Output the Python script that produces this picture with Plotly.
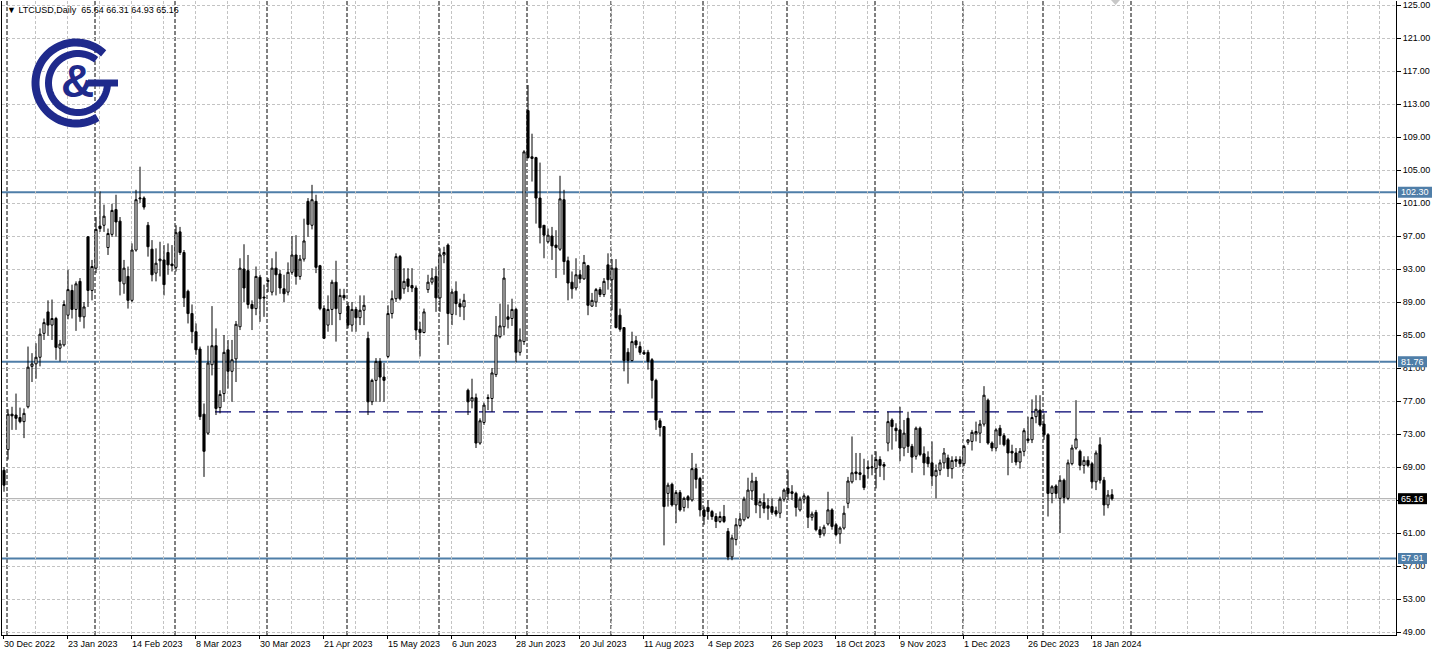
import math
import pandas as pd
import plotly.graph_objects as go

# ---------------- data ----------------
opens = [68.6, 71.1, 75.4, 75.3, 75.0, 74.5, 76.3, 81.2, 81.5, 82.3, 85.2, 87.8, 86.2, 87.0, 83.4, 83.8, 87.4, 90.4, 88.1, 91.5,
         87.2, 96.9, 90.4, 93.1, 98.2, 98.3, 95.6, 97.2, 100.2, 98.8, 91.2, 92.1, 89.2, 95.3, 101.5, 101.6, 98.3, 95.4, 92.5, 94.0,
         94.1, 95.0, 93.6, 93.2, 97.5, 95.0, 90.3, 87.6, 85.4, 83.3, 75.4, 73.1, 81.4, 83.7, 76.2, 77.9, 83.2, 80.6, 82.1, 86.0,
         93.0, 92.8, 88.7, 88.2, 92.0, 89.6, 91.5, 90.2, 93.1, 92.4, 90.6, 90.2, 92.6, 94.7, 92.1, 94.2, 101.2, 98.3, 101.2, 93.4,
         88.2, 86.2, 88.1, 91.4, 87.6, 89.8, 88.5, 86.2, 88.1, 87.1, 88.0, 84.6, 76.9, 79.5, 81.8, 79.9, 82.4, 87.6, 89.4, 94.5,
         90.6, 91.8, 91.0, 90.7, 85.7, 85.3, 90.5, 91.4, 92.1, 89.5, 94.7, 95.9, 87.5, 90.3, 88.8, 88.4, 78.3, 77.0, 77.4, 71.9,
         74.4, 77.3, 77.3, 80.2, 84.8, 86.0, 87.2, 87.0, 88.1, 82.9, 84.2, 112.2, 106.6, 106.5, 101.6, 98.3, 96.3, 97.0, 95.9, 95.4,
         101.4, 94.0, 91.4, 90.7, 92.3, 91.8, 93.4, 88.5, 89.0, 90.5, 89.9, 93.5, 91.7, 93.1, 87.4, 85.9, 82.9, 81.9, 84.3, 83.6,
         82.9, 82.9, 82.0, 79.5, 74.6, 73.9, 65.8, 66.9, 64.4, 65.9, 64.1, 65.4, 65.0, 68.8, 67.6, 63.8, 64.1, 63.6, 63.0, 62.4,
         63.0, 61.2, 58.1, 60.2, 61.9, 62.6, 62.9, 66.1, 67.3, 64.3, 64.7, 64.3, 64.2, 63.7, 63.4, 65.1, 66.4, 66.0, 65.8, 63.8,
         65.1, 65.4, 62.9, 63.5, 61.4, 60.9, 62.1, 63.8, 62.0, 60.9, 61.6, 64.6, 67.2, 68.4, 68.3, 68.0, 69.0, 68.9, 68.8, 69.9,
         69.3, 71.9, 74.7, 73.7, 73.5, 71.3, 74.9, 71.5, 70.3, 73.7, 70.6, 70.2, 69.5, 67.9, 68.6, 69.5, 70.1, 68.8, 69.9, 69.9,
         69.4, 72.0, 72.1, 73.0, 73.1, 74.2, 77.1, 71.9, 71.3, 73.7, 72.8, 72.3, 70.9, 70.7, 69.6, 70.9, 72.2, 72.3, 75.1, 75.9,
         74.2, 72.9, 65.8, 66.7, 65.2, 67.4, 65.2, 69.4, 71.3, 70.9, 69.2, 69.8, 69.4, 67.2, 71.7, 67.4, 64.4, 65.64]
highs = [69.0, 76.0, 76.3, 77.9, 76.2, 76.1, 83.6, 82.8, 84.0, 85.8, 87.0, 89.2, 89.3, 87.2, 84.4, 89.2, 92.9, 91.1, 91.5, 91.9,
         89.0, 97.0, 94.1, 99.3, 102.4, 100.8, 97.9, 100.9, 102.0, 99.3, 94.1, 93.3, 96.1, 102.6, 105.4, 101.8, 98.7, 96.5, 95.5, 96.3,
         95.9, 96.1, 95.9, 98.3, 98.1, 95.3, 90.5, 88.7, 86.4, 83.6, 76.7, 83.7, 88.5, 85.8, 78.3, 85.0, 84.4, 84.4, 86.7, 94.3,
         96.0, 94.7, 89.2, 93.3, 92.3, 91.1, 91.9, 94.3, 95.1, 92.9, 92.3, 93.8, 97.0, 97.1, 94.7, 99.1, 101.6, 103.2, 102.0, 93.5,
         88.6, 89.8, 91.7, 94.0, 90.6, 90.6, 89.0, 89.0, 88.4, 89.8, 89.8, 85.4, 79.7, 82.2, 82.2, 81.6, 88.6, 90.4, 94.9, 94.7,
         93.1, 93.1, 93.1, 91.0, 86.6, 88.2, 92.3, 93.1, 93.3, 95.5, 95.7, 96.1, 90.6, 91.5, 89.4, 90.0, 78.5, 79.7, 77.9, 74.9,
         76.8, 77.8, 81.0, 87.3, 88.8, 93.1, 88.7, 89.4, 88.3, 85.8, 107.4, 115.3, 109.4, 106.6, 105.9, 98.3, 97.9, 98.1, 97.7, 104.3,
         102.6, 94.5, 92.7, 94.3, 92.9, 94.7, 93.5, 90.1, 90.7, 90.8, 91.9, 94.9, 94.2, 94.2, 88.2, 85.9, 83.4, 85.4, 84.9, 84.2,
         83.2, 83.2, 82.2, 79.7, 74.9, 73.9, 67.1, 67.1, 66.2, 66.2, 65.4, 65.6, 70.7, 69.4, 67.8, 64.2, 65.0, 63.8, 63.4, 63.6,
         64.4, 61.6, 60.8, 62.8, 63.4, 65.4, 67.7, 68.3, 67.8, 65.2, 65.8, 65.2, 65.2, 64.2, 65.4, 66.4, 68.6, 66.8, 66.0, 65.4,
         65.8, 65.6, 63.6, 63.8, 61.8, 62.0, 66.0, 64.0, 62.2, 61.8, 64.3, 67.8, 72.7, 70.7, 70.7, 70.0, 69.8, 70.5, 70.9, 70.3,
         69.6, 75.7, 74.9, 74.3, 76.3, 74.7, 75.7, 71.8, 73.9, 73.9, 71.5, 70.9, 72.1, 69.3, 69.9, 71.3, 70.5, 70.3, 70.3, 70.3,
         71.7, 72.3, 73.5, 74.5, 74.7, 78.8, 77.3, 72.1, 73.7, 74.1, 73.1, 72.5, 71.7, 71.3, 71.3, 73.7, 75.1, 77.2, 77.7, 77.7,
         75.5, 73.1, 66.8, 66.9, 68.0, 67.6, 69.9, 71.7, 77.1, 71.1, 70.3, 70.3, 69.6, 71.0, 72.6, 67.8, 66.2, 66.31]
lows = [66.0, 69.9, 73.5, 73.5, 74.3, 72.5, 76.1, 79.3, 79.7, 81.2, 84.4, 84.9, 84.4, 82.0, 81.8, 83.6, 86.9, 87.0, 85.5, 86.6,
        85.8, 88.4, 89.2, 92.5, 97.5, 97.5, 94.7, 96.9, 96.9, 89.8, 90.0, 88.2, 89.0, 95.1, 101.0, 100.2, 94.5, 91.5, 91.5, 92.1,
        89.8, 92.3, 92.7, 92.7, 94.7, 88.4, 86.4, 84.0, 82.6, 74.7, 67.8, 72.9, 80.1, 75.3, 75.5, 76.9, 78.5, 76.9, 79.3, 85.6,
        89.0, 88.2, 85.6, 87.4, 86.6, 87.2, 90.2, 89.8, 89.8, 90.0, 89.0, 89.8, 92.3, 91.1, 91.7, 93.9, 96.9, 97.8, 92.5, 88.0,
        84.5, 85.4, 86.2, 84.2, 86.8, 89.2, 85.8, 85.4, 85.4, 86.2, 86.2, 75.3, 76.5, 76.9, 76.9, 76.9, 82.2, 87.0, 89.0, 89.2,
        90.0, 90.2, 90.2, 84.4, 82.4, 85.2, 90.1, 91.1, 87.8, 87.8, 93.7, 83.8, 86.2, 87.4, 87.2, 86.8, 75.3, 76.1, 71.3, 71.7,
        74.1, 75.9, 75.7, 79.9, 84.6, 85.0, 85.8, 86.1, 81.7, 82.5, 83.8, 106.4, 103.6, 98.5, 96.1, 94.3, 96.1, 94.1, 91.9, 95.2,
        92.3, 89.2, 89.4, 90.4, 91.3, 91.7, 87.4, 88.4, 88.4, 89.6, 89.6, 90.5, 88.0, 85.8, 85.4, 80.6, 79.1, 81.8, 83.4, 82.6,
        82.6, 80.8, 77.3, 73.5, 72.7, 59.5, 64.2, 64.2, 62.2, 63.6, 63.6, 64.0, 64.8, 66.4, 63.0, 62.0, 62.6, 62.6, 61.6, 62.2,
        62.2, 57.7, 57.7, 59.5, 61.7, 62.4, 62.7, 65.0, 63.4, 62.8, 63.4, 62.6, 63.2, 63.0, 62.8, 64.8, 65.0, 65.0, 63.0, 63.6,
        64.6, 61.6, 62.5, 61.2, 60.4, 60.6, 61.9, 61.4, 60.6, 59.7, 61.4, 64.0, 67.0, 67.4, 67.4, 66.2, 67.6, 68.0, 66.4, 67.8,
        67.4, 70.9, 71.1, 72.1, 69.7, 70.3, 70.7, 68.3, 69.9, 70.3, 68.0, 69.0, 66.7, 65.2, 68.0, 68.8, 67.8, 67.6, 69.0, 69.0,
        69.1, 71.7, 71.0, 72.1, 71.9, 73.9, 71.7, 70.9, 70.9, 71.7, 71.5, 68.0, 69.5, 69.2, 68.8, 70.3, 71.9, 71.9, 74.3, 73.9,
        72.3, 63.0, 64.6, 65.2, 61.0, 64.6, 65.0, 69.2, 71.1, 68.6, 68.2, 69.0, 66.4, 66.2, 67.0, 63.1, 64.0, 64.93]
closes = [66.8, 75.4, 75.2, 74.9, 74.5, 75.5, 81.1, 81.5, 82.3, 85.1, 86.5, 86.2, 87.0, 83.5, 83.9, 88.7, 90.5, 88.1, 91.2, 87.2,
          88.4, 90.4, 93.3, 97.8, 97.9, 99.4, 97.3, 100.1, 98.7, 91.5, 93.1, 89.2, 95.3, 101.4, 101.6, 100.5, 95.7, 92.3, 93.7, 94.2,
          91.1, 93.5, 93.4, 97.4, 95.0, 89.5, 87.6, 85.4, 83.2, 75.1, 70.9, 81.6, 83.7, 76.1, 77.8, 82.9, 80.6, 82.0, 86.3, 93.1,
          90.7, 88.7, 88.2, 92.1, 89.4, 89.5, 91.6, 93.1, 92.3, 90.7, 90.0, 92.6, 94.7, 92.1, 94.2, 96.4, 98.4, 101.4, 93.2, 88.2,
          84.6, 88.1, 91.4, 88.2, 89.8, 89.5, 86.2, 88.1, 87.1, 88.0, 88.6, 76.9, 79.5, 81.8, 79.9, 79.5, 87.6, 89.4, 94.5, 89.4,
          91.5, 90.9, 90.7, 85.6, 85.3, 87.8, 91.4, 91.9, 89.5, 94.7, 95.0, 87.6, 90.2, 88.8, 88.4, 89.2, 76.9, 77.4, 71.9, 74.6,
          76.5, 77.4, 80.4, 85.0, 86.1, 91.9, 86.9, 88.1, 82.9, 84.4, 107.2, 106.5, 106.4, 101.6, 98.0, 97.1, 97.1, 95.8, 95.6, 101.5,
          93.9, 91.3, 90.6, 92.3, 91.8, 93.8, 88.6, 89.2, 90.5, 89.9, 91.5, 91.7, 93.1, 85.9, 85.7, 81.9, 81.9, 84.2, 83.8, 82.9,
          82.7, 81.8, 79.5, 74.7, 73.8, 64.2, 66.8, 64.4, 65.9, 63.8, 65.2, 65.0, 68.8, 67.5, 63.8, 63.0, 63.6, 63.0, 62.4, 63.0,
          62.4, 58.1, 60.4, 62.0, 62.7, 65.1, 66.2, 67.3, 64.4, 64.8, 64.0, 64.0, 63.5, 63.3, 65.1, 66.2, 65.8, 65.8, 64.1, 65.1,
          65.5, 62.9, 63.3, 61.4, 60.8, 61.7, 63.8, 61.8, 60.8, 61.6, 63.4, 67.3, 68.3, 68.2, 68.1, 66.5, 68.8, 69.0, 69.9, 69.2,
          69.1, 74.5, 73.9, 73.4, 71.3, 73.1, 71.5, 70.2, 73.7, 70.5, 69.5, 69.4, 67.9, 68.6, 69.5, 70.7, 68.8, 69.8, 69.7, 69.4,
          71.5, 72.3, 73.2, 73.3, 74.2, 77.7, 71.9, 71.3, 73.5, 72.8, 71.7, 70.7, 70.7, 69.6, 70.9, 73.4, 72.4, 75.0, 76.0, 74.1,
          72.9, 65.8, 66.6, 65.8, 67.4, 65.3, 69.5, 71.3, 72.4, 69.2, 69.8, 69.2, 67.2, 70.7, 67.4, 64.4, 65.6, 65.16]

symbol = "LTCUSD,Daily"
start_date = "2022-12-30"
market_holidays = ["2023-12-25", "2024-01-01"]
levels = [102.30, 81.76, 57.91]          # horizontal support / resistance lines
bid_price = closes[-1]                    # current price line
dashed_level = 75.67                      # dashed horizontal line
dashed_span = [52.75, 314.75]             # bar positions where the dashed line starts / ends
label_every = 16                          # bars between date labels
grid_every = 8                            # bars between vertical grid lines
y_ticks = list(range(49, 126, 4))

# ---------------- geometry of the page ----------------
W, H = 1436, 656
ML, MR, MT, MB = 2, 40, 1, 21
PW, PH = W - ML - MR, H - MT - MB
X_RANGE = [-0.5, 348]
Y_RANGE = [48.636, 125.485]

def px(x):
    return (x - ML) / PW

def py(y):
    return (H - MB - y) / PH

n = len(closes)
idx = list(range(n))
days = pd.bdate_range(start_date, periods=n + 40)
days = days[~days.isin(pd.to_datetime(market_holidays))]

NAVY = "#1f2a8c"
STEEL = "#4f7ea8"
GRID = "#c3c3c3"
FONT = "Tahoma, Liberation Sans, Arial, sans-serif"

fig = go.Figure()
fig.add_trace(go.Candlestick(
    x=idx, open=opens, high=highs, low=lows, close=closes,
    increasing=dict(line=dict(color="black", width=1), fillcolor="white"),
    decreasing=dict(line=dict(color="black", width=1), fillcolor="black"),
    whiskerwidth=0, hoverinfo="skip", showlegend=False,
))

shapes = []
annotations = []

# month separators (black dashed verticals)
for k in range(1, min(len(days), 300)):
    if days[k].month != days[k - 1].month and k - 0.25 < X_RANGE[1]:
        shapes.append(dict(type="line", xref="x", yref="paper", x0=k - 0.25, x1=k - 0.25, y0=0, y1=1,
                           line=dict(color="black", width=1, dash="4px,2px"), layer="between"))

# horizontal level lines + price labels on the axis
for lv in levels:
    shapes.append(dict(type="line", xref="paper", yref="y", x0=0, x1=1, y0=lv, y1=lv,
                       line=dict(color=STEEL, width=2), layer="between"))
shapes.append(dict(type="line", xref="paper", yref="y", x0=0, x1=1, y0=bid_price, y1=bid_price,
                   line=dict(color="#a8a8a8", width=1), layer="between"))
shapes.append(dict(type="line", xref="x", yref="y", x0=dashed_span[0], x1=dashed_span[1],
                   y0=dashed_level, y1=dashed_level,
                   line=dict(color="#000070", width=1.3, dash="16px,8px"), layer="between"))

ppu = PH / (Y_RANGE[1] - Y_RANGE[0])   # pixels per price unit
for lv, col in [(levels[0], STEEL), (levels[1], STEEL), (levels[2], STEEL), (bid_price, "black")]:
    txt = f"{lv:.2f}"
    wpx = len(txt) * 5 + 4
    shapes.append(dict(type="rect", xref="paper", yref="y", x0=px(1398), x1=px(1398 + wpx),
                       y0=lv - 5.5 / ppu, y1=lv + 5.5 / ppu, fillcolor=col, line=dict(width=0), layer="above"))
    annotations.append(dict(xref="paper", yref="y", x=px(1398 + wpx / 2), y=lv, text=txt, showarrow=False,
                            xanchor="center", yanchor="middle", font=dict(family=FONT, size=9, color="white")))

# header text
annotations.append(dict(xref="paper", yref="paper", x=px(5), y=py(10), xanchor="left", yanchor="middle",
                        showarrow=False, text="\u25bc " + symbol + "  " + " ".join(f"{v:.2f}" for v in
                                                                              (opens[-1], highs[-1], lows[-1], closes[-1])),
                        font=dict(family=FONT, size=9, color="black")))

# small chart-shift marker at the top
shapes.append(dict(type="path", xref="paper", yref="paper",
                   path=f"M{px(1111)},{py(0)} L{px(1120)},{py(0)} L{px(1115.5)},{py(5)} Z",
                   fillcolor="#c8c8c8", line=dict(width=0), layer="above"))

# logo
def arc(cx, cy, r, a0, a1, steps=60):
    pts = []
    for s in range(steps + 1):
        a = math.radians(a0 + (a1 - a0) * s / steps)
        pts.append((px(cx + r * math.cos(a)), py(cy - r * math.sin(a))))
    return "M" + " L".join(f"{x:.5f},{y:.5f}" for x, y in pts)

shapes.append(dict(type="path", xref="paper", yref="paper", path=arc(76, 83, 40.5, 47, 302),
                   line=dict(color=NAVY, width=8), layer="above"))
shapes.append(dict(type="path", xref="paper", yref="paper", path=arc(78, 83, 29.5, 52, 360),
                   line=dict(color=NAVY, width=7), layer="above"))
shapes.append(dict(type="line", xref="paper", yref="paper", x0=px(88), x1=px(118), y0=py(83), y1=py(83),
                   line=dict(color=NAVY, width=7), layer="above"))
annotations.append(dict(xref="paper", yref="paper", x=px(77), y=py(81), text="<b>&</b>", showarrow=False,
                        xanchor="center", yanchor="middle",
                        font=dict(family="Liberation Sans, Arial, sans-serif", size=46, color=NAVY)))

tick_pos = [i - 0.25 for i in range(0, n, label_every)]
tick_txt = [f"{days[i].day} {days[i].strftime('%b %Y')}" for i in range(0, n, label_every)]
minor_pos = [i - 0.25 for i in range(0, 350, grid_every)]

fig.update_layout(
    width=W, height=H,
    margin=dict(l=ML, r=MR, t=MT, b=MB),
    paper_bgcolor="white", plot_bgcolor="white",
    boxgap=0.25,
    showlegend=False,
    shapes=shapes, annotations=annotations,
    xaxis=dict(
        range=X_RANGE, rangeslider=dict(visible=False), tickmode="array", tickvals=tick_pos, ticktext=tick_txt,
        ticklabelposition="outside right", ticks="outside", ticklen=3, tickcolor="black",
        showgrid=True, gridcolor=GRID, griddash="3px,2px", gridwidth=1,
        minor=dict(tickvals=minor_pos, showgrid=True, gridcolor=GRID, griddash="3px,2px", ticks=""),
        showline=True, linecolor="black", linewidth=1, zeroline=False,
        tickfont=dict(family=FONT, size=9, color="black"), fixedrange=True,
    ),
    yaxis=dict(
        side="right", range=Y_RANGE, tickmode="array", tickvals=y_ticks, ticktext=[f"{v:.2f}" for v in y_ticks],
        ticks="outside", ticklen=4, tickcolor="black",
        showgrid=True, gridcolor=GRID, griddash="3px,2px", gridwidth=1,
        showline=True, linecolor="black", linewidth=1, mirror=True, zeroline=False,
        tickfont=dict(family=FONT, size=9, color="black"), fixedrange=True,
    ),
)

fig.write_html("out.html", config={"displayModeBar": False},
               post_script="document.body.style.margin='0px';document.body.style.overflow='hidden';")
